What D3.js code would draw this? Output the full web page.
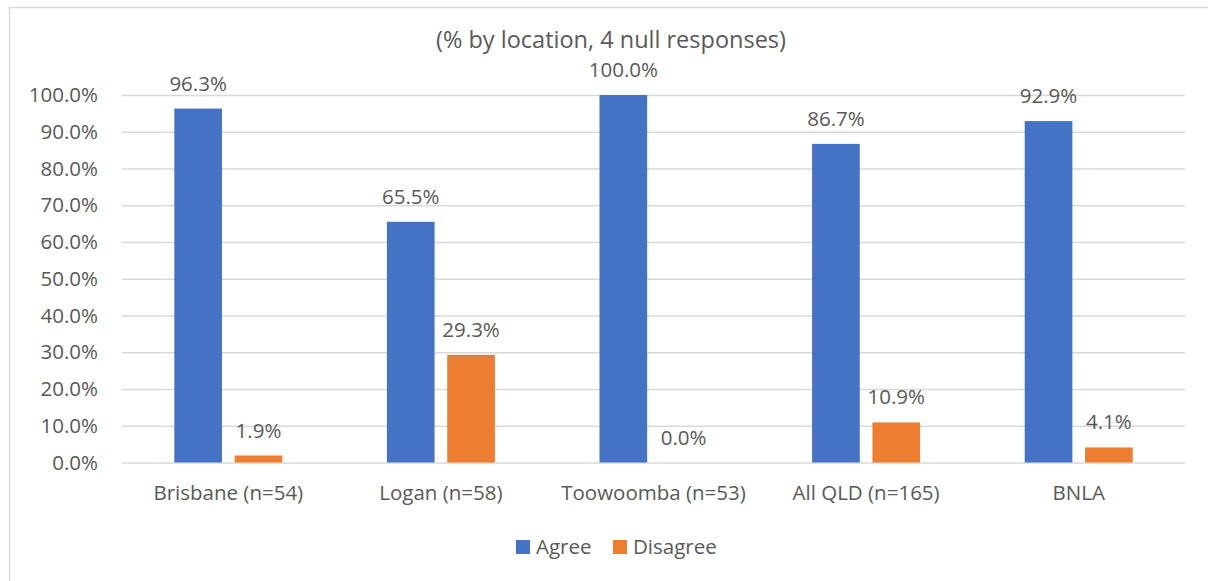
<!DOCTYPE html>
<html><head><meta charset="utf-8">
<script src="https://cdn.jsdelivr.net/npm/d3@7"></script>
<style>
body{margin:0;background:#fff;}
svg text{font-family:"Open Sans",sans-serif;fill:#595959;}
</style></head>
<body><svg id="c" width="1208" height="581"></svg>
<script>
const categories = ["Brisbane (n=54)","Logan (n=58)","Toowoomba (n=53)","All QLD (n=165)","BNLA"];
const seriesNames = ["Agree","Disagree"];
const agree = [96.3,65.5,100.0,86.7,92.9];
const disagree = [1.9,29.3,0.0,10.9,4.1];
const yTicks = [0,10,20,30,40,50,60,70,80,90,100];
const colors = ["#4472C4","#ED7D31"];
const title = "(% by location, 4 null responses)";

const svg = d3.select("#c");
const FS = "20.5px";
const m={left:122,right:1185,top:95,bottom:462.5};

svg.append("rect").attr("x",9.5).attr("y",7.5).attr("width",1210).attr("height",600)
  .attr("fill","#fff").attr("stroke","#d9d9d9").attr("stroke-width",1.5);

const x0=d3.scaleBand().domain(categories).range([m.left,m.right]).paddingInner(0).paddingOuter(0);
const x1=d3.scaleBand().domain(seriesNames).range([0,108]).paddingInner(0.21).paddingOuter(0);
const y=d3.scaleLinear().domain([0,100]).range([m.bottom,m.top]);

const yAxis=d3.axisLeft(y).tickValues(yTicks).tickSize(-(m.right-m.left)).tickFormat(d=>d.toFixed(1)+"%");
const ga=svg.append("g").attr("transform",`translate(${m.left},0)`).call(yAxis);
ga.select(".domain").remove();
ga.selectAll(".tick line").attr("stroke","#d9d9d9").attr("stroke-width",1.3);
ga.selectAll(".tick text").attr("x",-24).attr("font-size",FS).attr("fill","#595959")
  .style("font-family","'Open Sans',sans-serif");

const xAxis=d3.axisBottom(x0).tickSize(0).tickPadding(23);
const gx=svg.append("g").attr("transform",`translate(0,${m.bottom})`).call(xAxis);
gx.select(".domain").remove();
gx.selectAll(".tick text").attr("font-size",FS).attr("fill","#595959")
  .style("font-family","'Open Sans',sans-serif");

const data=categories.map((c,i)=>({cat:c,vals:[{s:"Agree",v:agree[i]},{s:"Disagree",v:disagree[i]}]}));
const grp=svg.append("g").selectAll("g").data(data).join("g")
  .attr("transform",d=>`translate(${x0(d.cat)+x0.bandwidth()/2-54},0)`);
grp.selectAll("rect").data(d=>d.vals).join("rect")
  .attr("x",d=>x1(d.s)).attr("width",x1.bandwidth())
  .attr("y",d=>y(d.v)).attr("height",d=>y(0)-y(d.v))
  .attr("fill",(d,i)=>colors[i]);
grp.selectAll("text").data(d=>d.vals).join("text")
  .attr("x",d=>x1(d.s)+x1.bandwidth()/2).attr("y",d=>y(d.v)-18)
  .attr("text-anchor","middle").attr("font-size",FS)
  .text(d=>d.v.toFixed(1)+"%");

svg.append("text").attr("x",611).attr("y",48).attr("text-anchor","middle")
  .attr("font-size","23.5px").text(title);

const lg=svg.append("g");
const lx=[516,613];
seriesNames.forEach((s,i)=>{
  lg.append("rect").attr("x",lx[i]).attr("y",540).attr("width",14).attr("height",14).attr("fill",colors[i]);
  lg.append("text").attr("x",lx[i]+20).attr("y",553.5).attr("font-size",FS).text(s);
});
</script></body></html>
